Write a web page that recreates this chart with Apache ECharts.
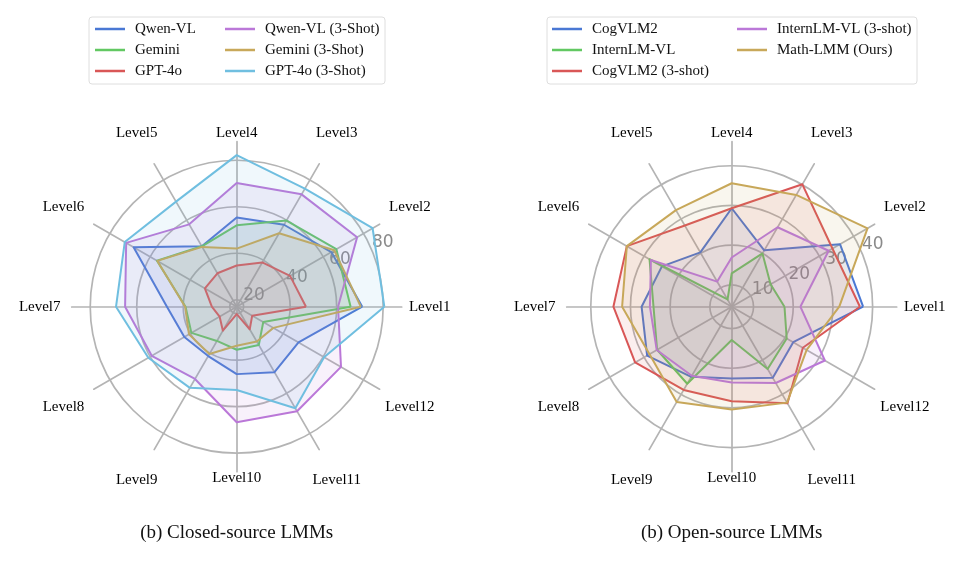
<!DOCTYPE html>
<html>
<head>
<meta charset="utf-8">
<script src="https://cdn.jsdelivr.net/npm/echarts@6/dist/echarts.min.js"></script>
<style>
html,body{margin:0;padding:0;background:#fff;}
#chart{width:969px;height:561px;}
</style>
</head>
<body>
<div id="chart"></div>
<script>
// ---------------- data ----------------
const levels = ['Level1','Level2','Level3','Level4','Level5','Level6','Level7','Level8','Level9','Level10','Level11','Level12'];

// Closed-source LMMs
const closedNames = ['Qwen-VL','Gemini','GPT-4o','Qwen-VL (3-Shot)','Gemini (3-Shot)','GPT-4o (3-Shot)'];
const qwenVL      = [71.0, 64.0, 57.7, 55.4, 47.0, 68.2, 47.0, 43.0, 41.5, 46.0, 49.5, 47.7];
const gemini      = [66.0, 66.5, 59.8, 52.0, 47.0, 56.6, 39.0, 39.5, 34.0, 35.5, 36.0, 30.2];
const gpt4o       = [46.8, 43.5, 39.0, 34.7, 33.6, 32.8, 27.7, 25.5, 28.9, 20.2, 28.2, 24.7];
const qwenVL3     = [60.6, 76.8, 72.8, 70.2, 57.9, 71.9, 65.0, 59.2, 52.9, 66.7, 68.9, 68.8];
const gemini3     = [70.4, 65.5, 53.5, 42.0, 46.7, 56.4, 39.2, 40.7, 40.5, 33.8, 34.3, 35.2];
const gpt4o3      = [80.5, 84.5, 75.6, 82.2, 69.2, 72.6, 68.9, 60.9, 57.3, 52.8, 67.4, 60.4];
const closedTicks = [20, 40, 60, 80];

// Open-source LMMs
const openNames = ['CogVLM2','InternLM-VL','CogVLM2 (3-shot)','InternLM-VL (3-shot)','Math-LMM (Ours)'];
const cogvlm2     = [37.6, 36.0, 20.9, 29.3, 20.3, 24.8, 27.2, 29.1, 24.9, 22.6, 25.2, 22.4];
const internlm    = [17.8, 15.8, 20.0, 12.9, 6.6, 28.4, 24.2, 26.2, 26.9, 12.9, 22.6, 20.5];
const cogvlm23    = [36.8, 33.8, 40.1, 29.3, 28.1, 35.0, 34.3, 32.6, 28.7, 28.3, 32.6, 25.2];
const internlm3   = [21.8, 32.7, 27.6, 16.9, 11.8, 28.0, 25.1, 26.3, 24.6, 23.6, 26.7, 31.6];
const mathlmm     = [31.6, 44.0, 37.0, 35.6, 32.6, 35.0, 32.1, 28.4, 32.2, 30.4, 32.4, 26.3];
const openTicks   = [10, 20, 30, 40];

// ---------------- style ----------------
const C = {
  blue:'#4a78d4', green:'#62c862', red:'#d95757', purple:'#bb78d8', gold:'#c8a85a', cyan:'#70bfe0'
};
const closedColors = [C.blue, C.green, C.red, C.purple, C.gold, C.cyan];
const openColors   = [C.blue, C.green, C.red, C.purple, C.gold];
const closedValues = [qwenVL, gemini, gpt4o, qwenVL3, gemini3, gpt4o3];
const openValues   = [cogvlm2, internlm, cogvlm23, internlm3, mathlmm];

const GRID = '#b4b4b4';
const SERIF = '"Liberation Serif","DejaVu Serif",serif';

// scale geometry (value at centre, px per unit)
const LC = [236.7, 306.7], RC = [731.7, 306.7];
const SPOKE = 165;
const L_MIN = 17,  L_K = 2.325;
const R_MIN = 4.5, R_K = 3.97;
const L_MAX = L_MIN + SPOKE / L_K;
const R_MAX = R_MIN + SPOKE / R_K;
const lTop = closedTicks[closedTicks.length-1], rTop = openTicks[openTicks.length-1];

// label placement tweaks (text centred around the ring, top/bottom/side labels pulled in)
const nameStyleOf = {Level1:'r', Level4:'t', Level7:'l', Level10:'b'};

function radarComp(center, min, max){
  return {
    center: center, radius: SPOKE, startAngle: 0, shape: 'circle',
    indicator: levels.map(n => ({name: n, min: min, max: max})),
    axisNameGap: 35,
    axisName: {
      color:'#000', fontFamily: SERIF, fontSize: 15, align:'center', verticalAlign:'middle',
      formatter: function(name){ const s = nameStyleOf[name] || 'd'; return '{' + s + '|' + name + '}'; },
      rich: {
        d:{fontFamily: SERIF, fontSize: 15, color:'#000'},
        r:{fontFamily: SERIF, fontSize: 15, color:'#000', padding:[0,14,0,0]},
        l:{fontFamily: SERIF, fontSize: 15, color:'#000', padding:[0,0,0,6]},
        t:{fontFamily: SERIF, fontSize: 15, color:'#000', padding:[52,0,0,0]},
        b:{fontFamily: SERIF, fontSize: 15, color:'#000', padding:[0,0,58,0]}
      }
    },
    axisLine: {lineStyle:{color: GRID, width: 1.7}},
    splitLine: {show:false}, splitArea:{show:false},
    axisTick:{show:false}, axisLabel:{show:false}
  };
}
function polarAxes(idx, min, top, splitNumber){
  return {
    angle: {polarIndex: idx, type:'value', startAngle: 22.5, min:0, max:360,
      axisLine:{show:false}, axisTick:{show:false}, axisLabel:{show:false}, splitLine:{show:false}},
    radius: {polarIndex: idx, type:'value', min: min, max: top, splitNumber: splitNumber,
      axisLine:{show:false}, axisTick:{show:false},
      splitLine:{show:true, lineStyle:{color: GRID, width: 1.7}},
      axisLabel:{show:true, showMinLabel:false, margin: 0, align:'left', verticalAlign:'bottom',
        color:'#8a8a8a', fontSize: 17, fontFamily:'"DejaVu Sans",sans-serif'}}
  };
}
const pL = polarAxes(0, L_MIN, lTop, closedTicks.length-1);
const pR = polarAxes(1, R_MIN, rTop, openTicks.length);

function radarData(names, values, colors){
  return names.map((n,i)=>({
    name: n, value: values[i],
    lineStyle:{color: colors[i], width: 2},
    itemStyle:{color: colors[i]},
    areaStyle:{color: colors[i], opacity: 0.1}
  }));
}

function legendCol(names, left){
  return {
    orient:'vertical', left: left, top: 18.5, padding: 0, itemGap: 0,
    icon:'rect', itemWidth: 30, itemHeight: 2.5,
    data: names,
    itemStyle:{borderWidth:0},
    textStyle:{color:'#111', fontFamily: SERIF, fontSize: 15, lineHeight: 21, padding:[0,0,0,5]}
  };
}

const option = {
  animation: false,
  backgroundColor: '#fff',
  radar: [radarComp(LC, L_MIN, L_MAX), radarComp(RC, R_MIN, R_MAX)],
  polar: [
    {center: LC, radius: (lTop - L_MIN) * L_K},
    {center: RC, radius: (rTop - R_MIN) * R_K}
  ],
  angleAxis: [pL.angle, pR.angle],
  radiusAxis: [pL.radius, pR.radius],
  legend: [
    legendCol(closedNames.slice(0,3), 95),
    legendCol(closedNames.slice(3), 225),
    legendCol(openNames.slice(0,3), 552),
    legendCol(openNames.slice(3), 737)
  ],
  graphic: [
    {type:'rect', z:-1, shape:{x:89, y:17, width:296, height:67, r:3}, style:{fill:'#fff', stroke:'#dedede', lineWidth:1}},
    {type:'rect', z:-1, shape:{x:547, y:17, width:370, height:67, r:3}, style:{fill:'#fff', stroke:'#dedede', lineWidth:1}},
    {type:'text', x: LC[0], y: 533, style:{text:'(b) Closed-source LMMs', textAlign:'center', textVerticalAlign:'middle', font:'19px ' + SERIF, fill:'#111'}},
    {type:'text', x: RC[0], y: 533, style:{text:'(b) Open-source LMMs', textAlign:'center', textVerticalAlign:'middle', font:'19px ' + SERIF, fill:'#111'}}
  ],
  series: [
    {type:'radar', radarIndex:0, symbol:'none', z:5, data: radarData(closedNames, closedValues, closedColors)},
    {type:'radar', radarIndex:1, symbol:'none', z:5, data: radarData(openNames, openValues, openColors)}
  ]
};

const chart = echarts.init(document.getElementById('chart'), null, {renderer:'canvas'});
chart.setOption(option);
</script>
</body>
</html>
